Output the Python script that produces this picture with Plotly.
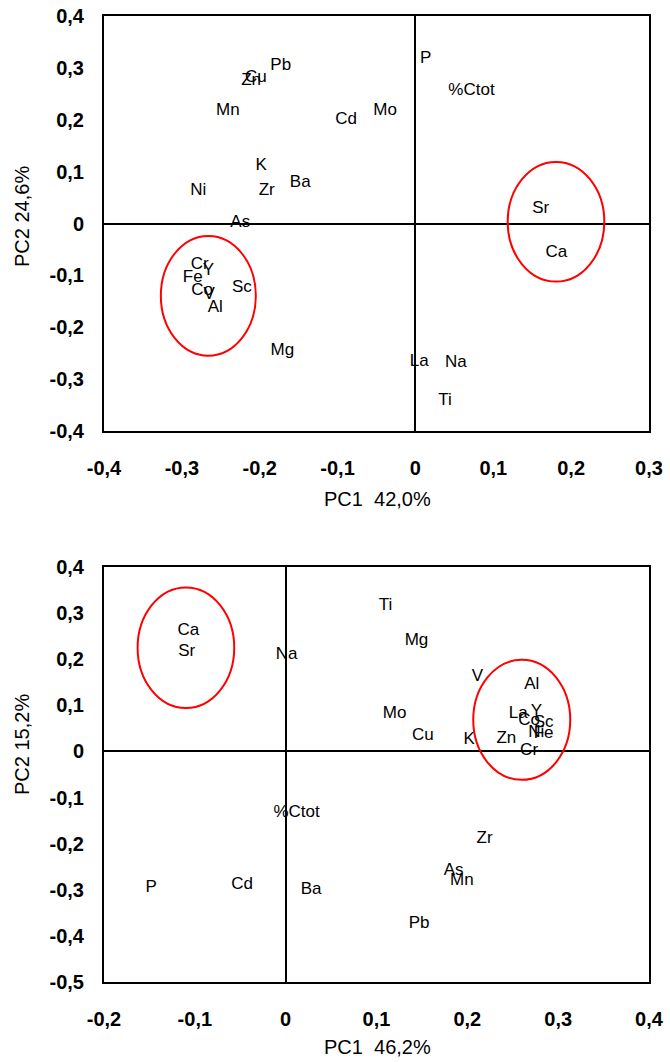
import plotly.graph_objects as go

# ---- Top chart (PC1 42,0% vs PC2 24,6%) ----
top_labels = ["Pb", "Cu", "Zn", "Mn", "K", "Ni", "Zr", "Ba", "As", "P", "%Ctot",
              "Cd", "Mo", "Sr", "Cr", "Y", "Fe", "Co", "V", "Al", "Sc", "Mg",
              "Ca", "La", "Na", "Ti"]
top_pc1 = [-0.173, -0.205, -0.211, -0.241, -0.198, -0.279, -0.191, -0.148, -0.225,
           0.013, 0.072, -0.089, -0.039, 0.161, -0.277, -0.266, -0.286, -0.274,
           -0.265, -0.257, -0.223, -0.171, 0.181, 0.005, 0.052, 0.038]
top_pc2 = [0.304, 0.281, 0.275, 0.217, 0.112, 0.063, 0.063, 0.079, 0.002,
           0.317, 0.256, 0.200, 0.217, 0.029, -0.079, -0.092, -0.104, -0.129,
           -0.137, -0.163, -0.123, -0.246, -0.056, -0.267, -0.269, -0.342]
top_xticks = [-0.4, -0.3, -0.2, -0.1, 0, 0.1, 0.2, 0.3]
top_xtext = ["-0,4", "-0,3", "-0,2", "-0,1", "0", "0,1", "0,2", "0,3"]
top_yticks = [-0.4, -0.3, -0.2, -0.1, 0, 0.1, 0.2, 0.3, 0.4]
top_ytext = ["-0,4", "-0,3", "-0,2", "-0,1", "0", "0,1", "0,2", "0,3", "0,4"]

# ---- Bottom chart (PC1 46,2% vs PC2 15,2%) ----
bot_labels = ["Ca", "Sr", "Na", "Ti", "Mg", "V", "Al", "Mo", "Cu", "K", "Zn",
              "La", "Y", "Co", "Sc", "Ni", "Fe", "Cr", "%Ctot", "P", "Cd", "Ba",
              "Zr", "As", "Mn", "Pb"]
bot_pc1 = [-0.107, -0.109, 0.001, 0.110, 0.144, 0.211, 0.271, 0.120, 0.151,
           0.202, 0.243, 0.256, 0.276, 0.268, 0.284, 0.276, 0.284, 0.268,
           0.012, -0.148, -0.048, 0.028, 0.219, 0.185, 0.194, 0.147]
bot_pc2 = [0.262, 0.217, 0.210, 0.315, 0.240, 0.163, 0.145, 0.082, 0.035,
           0.025, 0.027, 0.082, 0.087, 0.066, 0.063, 0.040, 0.038, 0.002,
           -0.133, -0.295, -0.290, -0.300, -0.190, -0.259, -0.280, -0.374]
bot_xticks = [-0.2, -0.1, 0, 0.1, 0.2, 0.3, 0.4]
bot_xtext = ["-0,2", "-0,1", "0", "0,1", "0,2", "0,3", "0,4"]
bot_yticks = [-0.5, -0.4, -0.3, -0.2, -0.1, 0, 0.1, 0.2, 0.3, 0.4]
bot_ytext = ["-0,5", "-0,4", "-0,3", "-0,2", "-0,1", "0", "0,1", "0,2", "0,3", "0,4"]

FONT = "Liberation Sans, Arial, sans-serif"
W, H = 670, 1062

fig = go.Figure()
fig.add_trace(go.Scatter(x=top_pc1, y=top_pc2, text=top_labels, mode="text",
                         textposition="middle center",
                         textfont=dict(family=FONT, size=17, color="#000000"),
                         xaxis="x", yaxis="y", showlegend=False, hoverinfo="skip"))
fig.add_trace(go.Scatter(x=bot_pc1, y=bot_pc2, text=bot_labels, mode="text",
                         textposition="middle center",
                         textfont=dict(family=FONT, size=17, color="#000000"),
                         xaxis="x2", yaxis="y2", showlegend=False, hoverinfo="skip"))

def px_x(p):
    return p / W

def px_y(p):
    return 1 - p / H

axis_common = dict(showgrid=False, showline=True, mirror=True, linecolor="#000000",
                   linewidth=2, zeroline=True, zerolinecolor="#000000", zerolinewidth=1.5,
                   ticks="", automargin=False,
                   tickfont=dict(family=FONT, size=20, color="#000000", weight="bold"))

fig.update_layout(
    width=W, height=H, margin=dict(l=0, r=0, t=0, b=0, autoexpand=False),
    paper_bgcolor="white", plot_bgcolor="white", showlegend=False,
    xaxis=dict(domain=[px_x(104), px_x(649)], range=[-0.4, 0.3], anchor="y",
               tickvals=top_xticks, ticktext=top_xtext, ticklabelstandoff=18, **axis_common),
    yaxis=dict(domain=[px_y(431), px_y(16)], range=[-0.4, 0.4], anchor="x",
               tickvals=top_yticks, ticktext=top_ytext, ticklabelstandoff=14, **axis_common),
    xaxis2=dict(domain=[px_x(104), px_x(649)], range=[-0.2, 0.4], anchor="y2",
                tickvals=bot_xticks, ticktext=bot_xtext, ticklabelstandoff=18, **axis_common),
    yaxis2=dict(domain=[px_y(982), px_y(567)], range=[-0.5, 0.4], anchor="x2",
                tickvals=bot_yticks, ticktext=bot_ytext, ticklabelstandoff=14, **axis_common),
)

title_font = dict(family=FONT, size=20, color="#000000")
fig.add_annotation(text="PC1  42,0%", xref="paper", yref="paper", x=px_x(377), y=px_y(499),
                   showarrow=False, font=title_font, xanchor="center", yanchor="middle")
fig.add_annotation(text="PC2 24,6%", xref="paper", yref="paper", x=px_x(22), y=px_y(217),
                   showarrow=False, font=title_font, textangle=-90,
                   xanchor="center", yanchor="middle")
fig.add_annotation(text="PC1  46,2%", xref="paper", yref="paper", x=px_x(377), y=px_y(1047),
                   showarrow=False, font=title_font, xanchor="center", yanchor="middle")
fig.add_annotation(text="PC2 15,2%", xref="paper", yref="paper", x=px_x(22), y=px_y(745),
                   showarrow=False, font=title_font, textangle=-90,
                   xanchor="center", yanchor="middle")

red = dict(color="#FF0000", width=2)
fig.add_shape(type="circle", xref="x", yref="y", x0=-0.327, x1=-0.205, y0=-0.255, y1=-0.024, line=red)
fig.add_shape(type="circle", xref="x", yref="y", x0=0.1185, x1=0.2426, y0=-0.112, y1=0.1187, line=red)
fig.add_shape(type="circle", xref="x2", yref="y2", x0=-0.163, x1=-0.0566, y0=0.094, y1=0.3557, line=red)
fig.add_shape(type="circle", xref="x2", yref="y2", x0=0.2065, x1=0.3133, y0=-0.0616, y1=0.1988, line=red)

fig.write_html("out.html", config={"displayModeBar": False},
               post_script="document.body.style.margin='0';document.body.style.padding='0';")
